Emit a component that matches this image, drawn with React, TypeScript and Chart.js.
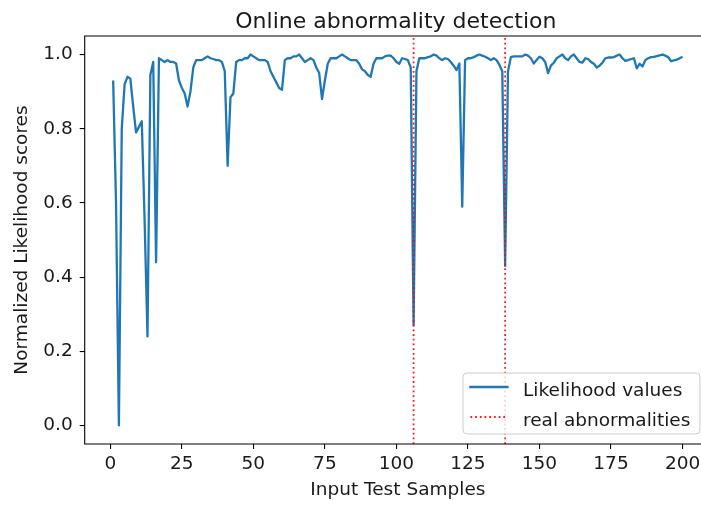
import React, { useEffect, useRef } from 'react';
import { Chart, registerables } from 'chart.js';

Chart.register(...registerables);

// ---- data ----
const likelihood: number[] = [
  0.93, 0.60, 0.00, 0.80, 0.92, 0.94, 0.935, 0.86, 0.79, 0.805,
  0.82, 0.55, 0.24, 0.945, 0.98, 0.44, 0.99, 0.985, 0.98, 0.985,
  0.98, 0.98, 0.976, 0.93, 0.91, 0.895, 0.86, 0.90, 0.965, 0.985,
  0.985, 0.985, 0.99, 0.995, 0.99, 0.988, 0.985, 0.985, 0.98, 0.955,
  0.70, 0.885, 0.895, 0.98, 0.985, 0.985, 0.99, 0.99, 1.0, 0.995,
  0.99, 0.985, 0.985, 0.985, 0.98, 0.955, 0.94, 0.925, 0.91, 0.905,
  0.985, 0.99, 0.99, 0.995, 0.995, 1.0, 0.99, 0.98, 0.985, 0.99,
  0.985, 0.965, 0.95, 0.88, 0.93, 0.975, 0.99, 0.99, 0.99, 0.995,
  1.0, 0.995, 0.99, 0.985, 0.985, 0.985, 0.975, 0.96, 0.955, 0.945,
  0.94, 0.975, 0.99, 0.99, 0.99, 0.995, 0.997, 0.997, 0.99, 0.98,
  0.975, 0.99, 0.988, 0.985, 0.965, 0.27, 0.955, 0.99, 0.99, 0.99,
  0.993, 0.995, 1.0, 0.997, 0.99, 0.985, 0.99, 0.988, 0.98, 0.97,
  0.958, 0.976, 0.59, 0.985, 0.99, 0.99, 0.993, 0.997, 1.0, 0.997,
  0.994, 0.99, 0.985, 0.99, 0.985, 0.972, 0.955, 0.43, 0.955, 0.993,
  0.995, 0.995, 0.995, 0.995, 1.0, 0.997, 0.99, 0.976, 0.985, 0.994,
  0.99, 0.98, 0.95, 0.97, 0.978, 0.99, 0.995, 1.0, 0.99, 0.985,
  0.995, 1.0, 0.99, 0.98, 0.978, 0.99, 0.988, 0.98, 0.975, 0.965,
  0.97, 0.978, 0.99, 0.992, 0.992, 0.993, 0.997, 1.0, 0.99, 0.983,
  0.985, 0.988, 0.99, 0.963, 0.975, 0.968, 0.985, 0.99, 0.993, 0.994,
  0.996, 0.998, 1.0, 0.997, 0.993, 0.982, 0.984, 0.986, 0.99, 0.994,
];
const sampleIndex: number[] = likelihood.map((_, k) => k + 1);
const abnormalities: number[] = [106, 138];
const xTicks: number[] = [0, 25, 50, 75, 100, 125, 150, 175, 200];
const yTicks: number[] = [0.0, 0.2, 0.4, 0.6, 0.8, 1.0];

const titleText = 'Online abnormality detection';
const xLabel = 'Input Test Samples';
const yLabel = 'Normalized Likelihood scores';
const legendLabels = ['Likelihood values', 'real abnormalities'];

const BLUE = '#1f77b4';
const RED = 'rgba(255,0,0,0.9)';
const FONT = "'DejaVu Sans', sans-serif";
const TEXT = '#1a1a1a';
const RED_DASH = [1.8, 2.9];

const decor = {
  id: 'decor',
  afterDatasetsDraw(chart: any) {
    const { ctx, chartArea: a } = chart;
    ctx.save();
    // axes spines (left, top, bottom; right one lies past the visible edge)
    ctx.strokeStyle = '#000';
    ctx.lineWidth = 1.1;
    ctx.beginPath();
    ctx.moveTo(a.right + 5, a.top);
    ctx.lineTo(a.left, a.top);
    ctx.lineTo(a.left, a.bottom);
    ctx.lineTo(a.right + 5, a.bottom);
    ctx.stroke();

    // legend
    const lw = 237;
    const lh = 61;
    const lx = a.right - 11 - lw;
    const ly = a.bottom - 10 - lh;
    ctx.beginPath();
    (ctx as any).roundRect(lx, ly, lw, lh, 4);
    ctx.fillStyle = 'rgba(255,255,255,0.8)';
    ctx.fill();
    ctx.strokeStyle = '#cccccc';
    ctx.lineWidth = 1;
    ctx.stroke();

    // handles
    ctx.lineCap = 'square';
    ctx.strokeStyle = BLUE;
    ctx.lineWidth = 2.3;
    ctx.beginPath();
    ctx.moveTo(lx + 7.4, ly + 14);
    ctx.lineTo(lx + 44.4, ly + 14);
    ctx.stroke();

    ctx.lineCap = 'butt';
    ctx.strokeStyle = RED;
    ctx.lineWidth = 1.8;
    ctx.setLineDash(RED_DASH);
    ctx.beginPath();
    ctx.moveTo(lx + 7.4, ly + 44);
    ctx.lineTo(lx + 44.4, ly + 44);
    ctx.stroke();
    ctx.setLineDash([]);

    ctx.fillStyle = TEXT;
    ctx.font = `18.5px ${FONT}`;
    ctx.textAlign = 'left';
    ctx.textBaseline = 'alphabetic';
    ctx.fillText(legendLabels[0], lx + 60, ly + 22.5);
    ctx.fillText(legendLabels[1], lx + 60, ly + 52.5);
    ctx.restore();
  },
  afterDraw(chart: any) {
    const { ctx, chartArea: a } = chart;
    const cx = (a.left + a.right) / 2;
    ctx.save();
    ctx.fillStyle = TEXT;
    ctx.textAlign = 'center';
    ctx.textBaseline = 'alphabetic';
    ctx.font = `22px ${FONT}`;
    ctx.fillText(titleText, cx - 2, 28);
    ctx.font = `18.5px ${FONT}`;
    ctx.fillText(xLabel, cx, 494.5);
    ctx.translate(26.5, (a.top + a.bottom) / 2);
    ctx.rotate(-Math.PI / 2);
    ctx.fillText(yLabel, 0, 0);
    ctx.restore();
  },
};

export default function App() {
  const ref = useRef<HTMLCanvasElement | null>(null);

  useEffect(() => {
    if (!ref.current) return;
    const datasets: any[] = [
      {
        label: legendLabels[0],
        data: likelihood.map((v, k) => ({ x: sampleIndex[k], y: v })),
        borderColor: BLUE,
        borderWidth: 2.3,
        pointRadius: 0,
        tension: 0,
        borderJoinStyle: 'round',
        order: 2,
      },
      ...abnormalities.map((a) => ({
        label: legendLabels[1],
        data: [
          { x: a, y: -0.05 },
          { x: a, y: 1.05 },
        ],
        borderColor: RED,
        borderWidth: 1.8,
        borderDash: RED_DASH,
        pointRadius: 0,
        order: 1,
      })),
    ];

    const chart = new Chart(ref.current, {
      type: 'line',
      data: { datasets },
      options: {
        responsive: false,
        maintainAspectRatio: false,
        animation: false,
        events: [],
        layout: { padding: { top: 36, right: 9, left: 0, bottom: 0 } },
        plugins: {
          legend: { display: false },
          tooltip: { enabled: false },
          title: { display: false },
        },
        scales: {
          x: {
            type: 'linear',
            min: -8.95,
            max: 209.95,
            afterBuildTicks: (s: any) => {
              s.ticks = xTicks.map((v) => ({ value: v }));
            },
            afterFit: (s: any) => {
              s.height = 62;
              s.paddingLeft = 0;
              s.paddingRight = 0;
            },
            grid: {
              display: true,
              drawOnChartArea: false,
              drawTicks: true,
              tickLength: 5,
              color: '#000',
              lineWidth: 1.1,
            },
            border: { display: false },
            ticks: {
              autoSkip: false,
              maxRotation: 0,
              padding: 4,
              color: TEXT,
              font: { family: FONT, size: 18.5 },
              callback: (v: any) => String(v),
            },
          },
          y: {
            type: 'linear',
            min: -0.05,
            max: 1.05,
            afterBuildTicks: (s: any) => {
              s.ticks = yTicks.map((v) => ({ value: v }));
            },
            afterFit: (s: any) => {
              s.width = 84.7;
              s.paddingTop = 0;
              s.paddingBottom = 0;
            },
            grid: {
              drawOnChartArea: false,
              drawTicks: true,
              tickLength: 5,
              color: '#000',
              lineWidth: 1.1,
            },
            border: { display: false },
            ticks: {
              padding: 7,
              color: TEXT,
              font: { family: FONT, size: 18.5 },
              callback: (v: any) => Number(v).toFixed(1),
            },
          },
        },
      },
      plugins: [decor],
    } as any);

    return () => chart.destroy();
  }, []);

  return (
    <div
      style={{
        position: 'fixed',
        left: 0,
        top: 0,
        width: 701,
        height: 506,
        overflow: 'hidden',
        background: '#fff',
      }}
    >
      <canvas ref={ref} width={720} height={506} style={{ display: 'block', width: 720, height: 506 }} />
    </div>
  );
}
